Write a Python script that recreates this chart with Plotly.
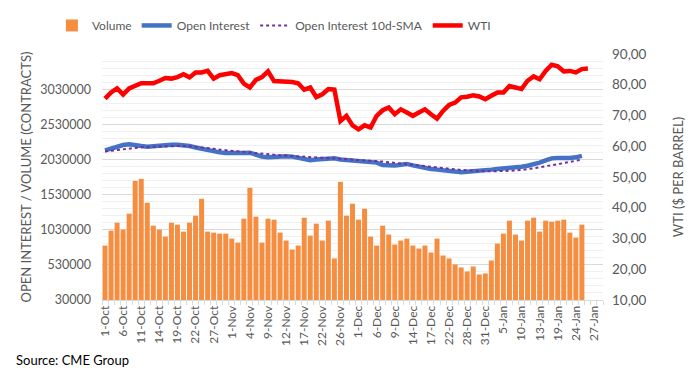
import plotly.graph_objects as go

dates = [
    "1-Oct", "4-Oct", "5-Oct", "6-Oct", "7-Oct", "8-Oct", "11-Oct", "12-Oct", "13-Oct", "14-Oct",
    "15-Oct", "18-Oct", "19-Oct", "20-Oct", "21-Oct", "22-Oct", "25-Oct", "26-Oct", "27-Oct", "28-Oct",
    "29-Oct",
    "1-Nov", "2-Nov", "3-Nov", "4-Nov", "5-Nov", "8-Nov", "9-Nov", "10-Nov", "11-Nov", "12-Nov",
    "15-Nov", "16-Nov", "17-Nov", "18-Nov", "19-Nov", "22-Nov", "23-Nov", "24-Nov", "26-Nov", "29-Nov",
    "30-Nov",
    "1-Dec", "2-Dec", "3-Dec", "6-Dec", "7-Dec", "8-Dec", "9-Dec", "10-Dec", "13-Dec", "14-Dec",
    "15-Dec", "16-Dec", "17-Dec", "20-Dec", "21-Dec", "22-Dec", "23-Dec", "27-Dec", "28-Dec", "29-Dec",
    "30-Dec", "31-Dec",
    "3-Jan", "4-Jan", "5-Jan", "6-Jan", "7-Jan", "10-Jan", "11-Jan", "12-Jan", "13-Jan", "14-Jan",
    "18-Jan", "19-Jan", "20-Jan", "21-Jan", "24-Jan", "25-Jan", "26-Jan", "27-Jan", "28-Jan",
]

tick_labels = [
    "1-Oct", "6-Oct", "11-Oct", "14-Oct", "19-Oct", "22-Oct", "27-Oct", "1-Nov", "4-Nov", "9-Nov",
    "12-Nov", "17-Nov", "22-Nov", "26-Nov", "1-Dec", "6-Dec", "9-Dec", "14-Dec", "17-Dec", "22-Dec",
    "28-Dec", "31-Dec", "5-Jan", "10-Jan", "13-Jan", "19-Jan", "24-Jan", "27-Jan",
]

volume = [
    805000, 1017000, 1130000, 1031000, 1258000, 1725000, 1754000, 1414000, 1088000, 1031000,
    932000, 1130000, 1102000, 1003000, 1130000, 1230000, 1470000, 1003000, 989000, 975000,
    975000, 904000, 847000, 1187000, 1626000, 1215000, 847000, 1187000, 1173000, 989000,
    876000, 748000, 805000, 1201000, 946000, 1116000, 876000, 1159000, 621000, 1711000,
    1230000, 1400000, 1173000, 1329000, 932000, 805000, 1088000, 961000, 819000, 876000,
    904000, 805000, 762000, 805000, 706000, 904000, 663000, 621000, 536000, 493000,
    436000, 507000, 394000, 408000, 592000, 833000, 975000, 1159000, 961000, 876000,
    1159000, 1201000, 1003000, 1159000, 1145000, 1159000, 1173000, 989000, 918000, 1102000,
]

open_interest = [
    2160000, 2190000, 2215000, 2235000, 2245000, 2240000, 2220000, 2210000, 2220000, 2230000,
    2235000, 2240000, 2240000, 2235000, 2220000, 2200000, 2180000, 2165000, 2150000, 2130000,
    2120000, 2116000, 2118000, 2122000, 2126000, 2090000, 2070000, 2060000, 2065000, 2080000,
    2075000, 2070000, 2055000, 2030000, 2020000, 2030000, 2035000, 2037000, 2045000, 2030000,
    2025000, 2020000, 2015000, 2005000, 2000000, 1985000, 1950000, 1942000, 1942000, 1955000,
    1966000, 1945000, 1925000, 1909000, 1895000, 1885000, 1875000, 1865000, 1850000, 1848000,
    1855000, 1860000, 1860000, 1865000, 1885000, 1895000, 1900000, 1905000, 1912000, 1925000,
    1940000, 1956000, 1985000, 2015000, 2045000, 2051000, 2045000, 2050000, 2060000, 2080000,
]

oi_sma10 = [
    2144000, 2155000, 2165000, 2175000, 2187000, 2195000, 2203000, 2208000, 2211000, 2216000,
    2220000, 2224000, 2225000, 2222000, 2218000, 2211000, 2205000, 2195000, 2182000, 2169000,
    2160000, 2155000, 2145000, 2135000, 2126000, 2118000, 2110000, 2098000, 2093000, 2088000,
    2084000, 2078000, 2070000, 2065000, 2058000, 2051000, 2049000, 2046000, 2043000, 2038000,
    2033000, 2030000, 2027000, 2023000, 2018000, 2010000, 1999000, 1990000, 1980000, 1970000,
    1966000, 1960000, 1950000, 1940000, 1920000, 1910000, 1900000, 1895000, 1885000, 1880000,
    1875000, 1868000, 1862000, 1861000, 1860000, 1861000, 1862000, 1866000, 1872000, 1880000,
    1890000, 1904000, 1917000, 1935000, 1945000, 1960000, 1980000, 1995000, 2010000, 2027000,
]

wti = [
    75.5, 77.5, 78.8, 76.8, 78.8, 79.6, 80.5, 80.5, 80.5, 81.3,
    82.2, 82.0, 82.5, 83.4, 82.4, 84.0, 84.0, 84.5, 82.0, 83.1,
    83.6, 83.8, 83.1, 80.4, 79.1, 81.6, 82.5, 84.4, 81.2, 81.2,
    81.1, 80.9, 80.5, 78.4, 79.1, 76.0, 76.9, 78.6, 78.4, 68.2,
    69.9, 66.8, 65.5, 66.8, 66.1, 69.9, 71.7, 72.6, 70.4, 72.0,
    71.0, 69.9, 71.0, 72.0, 70.4, 69.0, 71.5, 73.4, 74.2, 75.9,
    76.1, 76.6, 76.2, 75.3, 76.4, 77.5, 77.5, 79.6, 79.1, 78.6,
    81.3, 82.7, 81.8, 84.5, 86.5, 86.0, 84.3, 84.5, 84.0, 85.1,
    85.3,
]

left_ticks = [30000, 530000, 1030000, 1530000, 2030000, 2530000, 3030000]
right_ticks = [10, 20, 30, 40, 50, 60, 70, 80, 90]
right_tick_text = ["10,00", "20,00", "30,00", "40,00", "50,00", "60,00", "70,00", "80,00", "90,00"]

FONT = "Lato"
GRAY = "#595959"

fig = go.Figure()
fig.add_trace(go.Bar(x=dates[:len(volume)], y=volume, name="Volume",
                     marker=dict(color="#F68E42", line=dict(width=0))))
fig.add_trace(go.Scatter(x=dates[:len(open_interest)], y=open_interest, name="Open Interest",
                         mode="lines", line=dict(color="#4472C4", width=4.5)))
fig.add_trace(go.Scatter(x=dates[:len(oi_sma10)], y=oi_sma10, name="Open Interest 10d-SMA",
                         mode="lines", line=dict(color="#7030A0", width=2, dash="dot")))
fig.add_trace(go.Scatter(x=dates[:len(wti)], y=wti, name="WTI", yaxis="y2",
                         mode="lines", line=dict(color="#FF0000", width=4.5)))

ticktext = [d if d in tick_labels else "" for d in dates]

fig.update_layout(
    width=697, height=382,
    margin=dict(l=102, r=94, t=54, b=82, autoexpand=False),
    paper_bgcolor="white", plot_bgcolor="white",
    font=dict(family=FONT, color=GRAY, size=12),
    bargap=0.17,
    showlegend=True,
    legend=dict(orientation="h", x=-0.1, xanchor="left", y=1.175, yanchor="top",
                font=dict(size=12, color=GRAY), bgcolor="rgba(0,0,0,0)",
                itemwidth=30, traceorder="normal"),
    xaxis=dict(type="category", categoryorder="array", categoryarray=dates,
               range=[-0.5, len(dates) - 0.5], automargin=False,
               tickmode="array", tickvals=dates, ticktext=ticktext,
               tickson="boundaries", ticks="outside", ticklen=4, tickcolor="#d9d9d9",
               tickangle=-90, tickfont=dict(size=12, color=GRAY),
               showline=True, linecolor="#d9d9d9", linewidth=1,
               showgrid=False, zeroline=False),
    yaxis=dict(range=[30000, 3530000], tickmode="array", tickvals=left_ticks,
               ticktext=[str(v) for v in left_ticks], automargin=False,
               tickfont=dict(size=12.5, color=GRAY),
               showgrid=True, gridcolor="#d9d9d9", gridwidth=1,
               minor=dict(tick0=30000, dtick=100000, showgrid=True, gridcolor="#f0f0f0", gridwidth=1),
               zeroline=False, showline=False, ticks="", ticklabelstandoff=10,
               title=dict(text="OPEN INTEREST / VOLUME (CONTRACTS)", font=dict(size=13, color=GRAY),
                          standoff=5)),
    yaxis2=dict(range=[10, 90], overlaying="y", side="right", tickmode="array",
                tickvals=right_ticks, ticktext=right_tick_text, automargin=False,
                tickfont=dict(size=13.5, color=GRAY),
                showgrid=False, zeroline=False, showline=False, ticks="", ticklabelstandoff=8,
                title=dict(text="WTI ($ PER BARREL)", font=dict(size=13, color=GRAY), standoff=28)),
    annotations=[dict(text="Source: CME Group", xref="paper", yref="paper",
                      x=-0.175, y=-0.245, xanchor="left", yanchor="middle", showarrow=False,
                      font=dict(size=13, color="#000000", family=FONT))],
)

fig.write_html("out.html", config={"displayModeBar": False},
               post_script="document.body.style.margin='0';")
